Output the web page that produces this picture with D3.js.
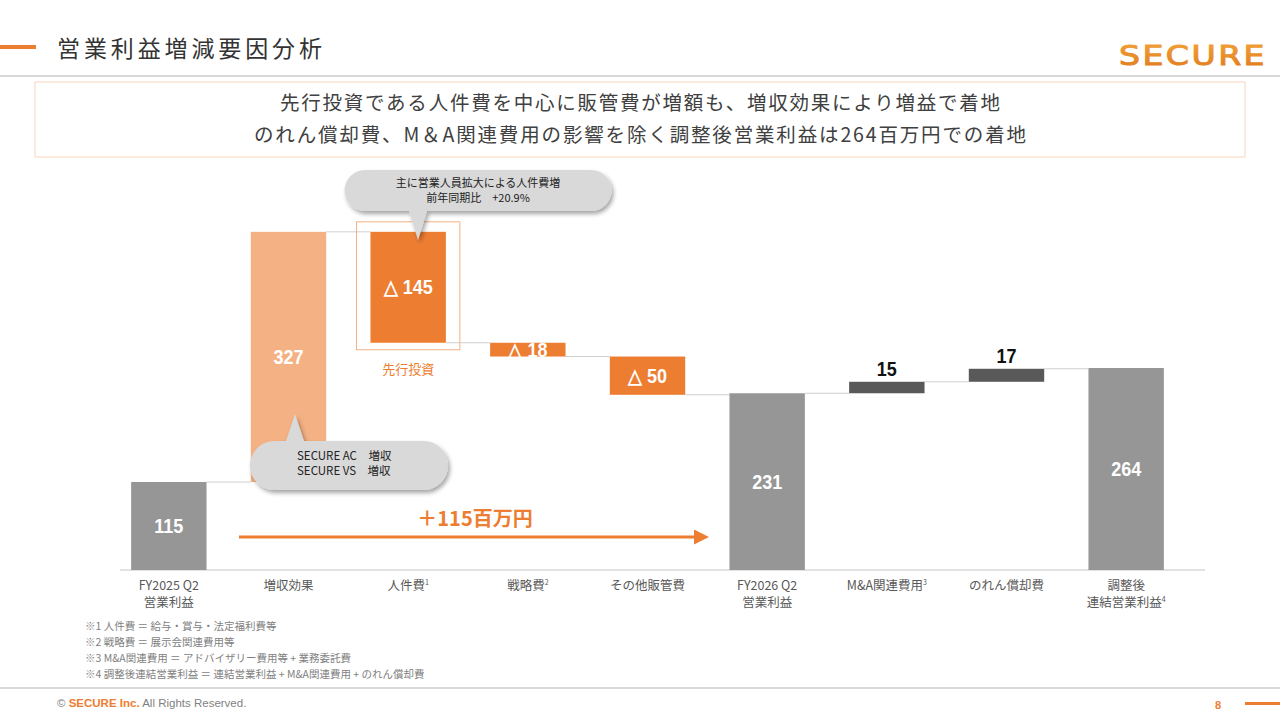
<!DOCTYPE html>
<html>
<head>
<meta charset="utf-8">
<script src="https://cdn.jsdelivr.net/npm/d3@7"></script>
<style>
  body { margin: 0; background: #fff; }
  svg { display: block; font-family: "Noto Sans CJK JP", "Noto Sans", sans-serif; }
</style>
</head>
<body>
<svg id="chart" width="1280" height="720"></svg>
<script>
// categories (line 1, line 2) and footnote superscripts
const catLine1 = ["FY2025 Q2", "増収効果", "人件費", "戦略費", "その他販管費", "FY2026 Q2", "M&A関連費用", "のれん償却費", "調整後"];
const catLine2 = ["営業利益", "", "", "", "", "営業利益", "", "", "連結営業利益"];
const catSup = ["", "", "1", "2", "", "", "3", "", "4"];

// waterfall values (百万円)
const values = [115, 327, -145, -18, -50, 231, 15, 17, 264];
const kinds = ["total", "up", "down", "down", "down", "total", "adj", "adj", "total"];
const valueLabels = ["115", "327", "△ 145", "△ 18", "△ 50", "231", "15", "17", "264"];

const headline = [
  "先行投資である人件費を中心に販管費が増額も、増収効果により増益で着地",
  "のれん償却費、M＆A関連費用の影響を除く調整後営業利益は264百万円での着地"
];
const note1 = ["主に営業人員拡大による人件費増", "前年同期比　+20.9%"];
const note2 = ["SECURE AC　増収", "SECURE VS　増収"];
const footnotes = [
  "※1 人件費 ＝ 給与・賞与・法定福利費等",
  "※2 戦略費 ＝ 展示会関連費用等",
  "※3 M&A関連費用 ＝ アドバイザリー費用等 + 業務委託費",
  "※4 調整後連結営業利益 ＝ 連結営業利益 + M&A関連費用 + のれん償却費"
];

const colors = { total: "#969696", up: "#F4B183", down: "#ED7D31", adj: "#595959" };
const orange = "#ED7D31";

const svg = d3.select("#chart");
const defs = svg.append("defs");
const shadow = defs.append("filter").attr("id", "shadow").attr("x", "-20%").attr("y", "-30%").attr("width", "140%").attr("height", "170%");
shadow.append("feDropShadow").attr("dx", 2).attr("dy", 3).attr("stdDeviation", 2).attr("flood-color", "#000").attr("flood-opacity", 0.35);

const logoGrad = defs.append("linearGradient").attr("id", "logoGrad").attr("x1", "0").attr("y1", "0").attr("x2", "0").attr("y2", "1");
logoGrad.append("stop").attr("offset", "0%").attr("stop-color", "#F2A33A");
logoGrad.append("stop").attr("offset", "100%").attr("stop-color", "#E07A1E");

defs.append("marker").attr("id", "arrowHead")
  .attr("viewBox", "0 0 10 10").attr("refX", 2).attr("refY", 5)
  .attr("markerWidth", 5).attr("markerHeight", 5).attr("orient", "auto")
  .append("path").attr("d", "M0,0 L10,5 L0,10 z").attr("fill", orange);

// ---- header ----
svg.append("rect").attr("x", 0).attr("y", 45).attr("width", 36).attr("height", 4).attr("fill", orange);
svg.append("text").attr("x", 57).attr("y", 57).attr("font-size", 23).attr("fill", "#333")
  .attr("textLength", 265).attr("lengthAdjust", "spacing")
  .text("営業利益増減要因分析");
svg.append("text").attr("x", 1119).attr("y", 65)
  .attr("font-family", "DejaVu Sans").attr("font-size", 27).attr("letter-spacing", 2)
  .attr("textLength", 148).attr("lengthAdjust", "spacingAndGlyphs")
  .attr("fill", "url(#logoGrad)").attr("stroke", "url(#logoGrad)").attr("stroke-width", 1)
  .text("SECURE");
svg.append("line").attr("x1", 0).attr("x2", 1280).attr("y1", 76).attr("y2", 76)
  .attr("stroke", "#d9d9d9").attr("stroke-width", 2);

// message box
svg.append("rect").attr("x", 35).attr("y", 82).attr("width", 1210).attr("height", 75)
  .attr("fill", "#fff").attr("stroke", "#F8D5BC").attr("stroke-width", 1);
const headWidths = [720, 772];
svg.selectAll(".headline").data(headline).enter().append("text")
  .attr("x", 640).attr("y", (d, i) => 110 + i * 32)
  .attr("text-anchor", "middle").attr("font-size", 19.5).attr("fill", "#404040")
  .attr("textLength", (d, i) => headWidths[i]).attr("lengthAdjust", "spacing")
  .text(d => d);

// ---- chart ----
const x = d3.scalePoint().domain(d3.range(values.length)).range([109, 1186]).padding(0.5);
const barW = x.step() * 0.63;
const y = d3.scaleLinear().domain([0, 450]).range([570, 225.7]);

let running = 0;
const bars = values.map((v, i) => {
  let y0, y1;
  if (kinds[i] === "total") { y0 = 0; y1 = v; running = v; }
  else { y0 = running; y1 = running + v; running = y1; }
  return { i, v, kind: kinds[i], lo: Math.min(y0, y1), hi: Math.max(y0, y1), end: y1, label: valueLabels[i] };
});

// axis line
svg.append("line").attr("x1", 120).attr("x2", 1205).attr("y1", y(0)).attr("y2", y(0))
  .attr("stroke", "#d9d9d9").attr("stroke-width", 1.5);

// connectors
bars.slice(0, -1).forEach((b) => {
  svg.append("line")
    .attr("x1", x(b.i) + barW / 2).attr("x2", x(b.i + 1) - barW / 2)
    .attr("y1", y(b.end)).attr("y2", y(b.end))
    .attr("stroke", "#d0d0d0").attr("stroke-width", 1);
});

svg.selectAll(".bar").data(bars).enter().append("rect")
  .attr("x", d => x(d.i) - barW / 2).attr("width", barW)
  .attr("y", d => y(d.hi)).attr("height", d => y(d.lo) - y(d.hi))
  .attr("fill", d => colors[d.kind]);

svg.selectAll(".val").data(bars).enter().append("text")
  .attr("transform", d => {
    const ty = d.kind === "adj" ? y(d.hi) - 6 : (y(d.lo) + y(d.hi)) / 2 + 7;
    return `translate(${x(d.i)},${ty}) scale(0.9,1)`;
  })
  .attr("text-anchor", "middle")
  .attr("font-family", "'Liberation Sans', sans-serif")
  .attr("font-weight", "bold").attr("font-size", 20)
  .attr("fill", d => d.kind === "adj" ? "#111" : "#fff")
  .text(d => d.label);

// category labels (each line its own text)
catLine1.forEach((d, i) => {
  const lines = catLine2[i] ? [d, catLine2[i]] : [d];
  lines.forEach((line, k) => {
    const t = svg.append("text")
      .attr("x", x(i)).attr("y", 590 + k * 17)
      .attr("text-anchor", "middle").attr("font-size", 12.5).attr("fill", "#595959");
    t.append("tspan").text(line);
    if (catSup[i] && k === lines.length - 1) {
      t.append("tspan").attr("font-size", 7).attr("dy", -5).text(catSup[i]);
    }
  });
});

// highlight box around 人件費
const b2 = bars[2];
svg.append("rect").attr("x", x(2) - barW / 2 - 14).attr("y", y(b2.hi) - 10)
  .attr("width", barW + 28).attr("height", y(b2.lo) - y(b2.hi) + 17)
  .attr("fill", "none").attr("stroke", "#F4B183").attr("stroke-width", 1);
svg.append("text").attr("x", x(2)).attr("y", 374).attr("text-anchor", "middle")
  .attr("font-size", 13).attr("fill", orange).text("先行投資");

// callouts
function callout(cx, top, w, h, tipX, tipY, lines, pos) {
  const g = svg.append("g").attr("filter", "url(#shadow)");
  const left = cx - w / 2;
  const baseY = tipY > top ? top + h : top;
  g.append("rect").attr("x", left).attr("y", top).attr("width", w).attr("height", h)
    .attr("rx", h / 2).attr("fill", "#d9d9d9");
  g.append("path").attr("d", `M${tipX - 9},${baseY} L${tipX},${tipY} L${tipX + 9},${baseY} Z`).attr("fill", "#d9d9d9");
  svg.selectAll(null).data(lines).enter().append("text")
    .attr("x", pos.x).attr("y", (d, i) => pos.y + i * 15)
    .attr("text-anchor", pos.anchor).attr("font-size", pos.size).attr("fill", "#222")
    .text(d => d);
}
callout(478, 170, 267, 41, 418, 240, note1, { x: 478, y: 187, anchor: "middle", size: 11 });
callout(349, 441, 198, 49, 295, 414, note2, { x: 297, y: 460, anchor: "start", size: 11.5 });

// +115 arrow
svg.append("line").attr("x1", 239).attr("x2", 697).attr("y1", 537).attr("y2", 537)
  .attr("stroke", orange).attr("stroke-width", 3).attr("marker-end", "url(#arrowHead)");
svg.append("text").attr("x", 475).attr("y", 526).attr("text-anchor", "middle")
  .attr("font-size", 20).attr("font-weight", "bold").attr("fill", orange).text("＋115百万円");

// footnotes
svg.selectAll(".fn").data(footnotes).enter().append("text")
  .attr("x", 85).attr("y", (d, i) => 630 + i * 16)
  .attr("font-size", 10.5).attr("fill", "#7f7f7f").text(d => d);

// footer
svg.append("line").attr("x1", 0).attr("x2", 1280).attr("y1", 688).attr("y2", 688)
  .attr("stroke", "#d9d9d9").attr("stroke-width", 2);
const foot = svg.append("text").attr("x", 57).attr("y", 707).attr("font-size", 11.5)
  .attr("font-family", "'Liberation Sans', sans-serif").attr("fill", "#7f7f7f");
foot.append("tspan").text("© ");
foot.append("tspan").attr("fill", orange).attr("font-weight", "bold").text("SECURE Inc.");
foot.append("tspan").text(" All Rights Reserved.");
svg.append("text").attr("x", 1218).attr("y", 709).attr("text-anchor", "middle")
  .attr("font-size", 11).attr("font-weight", "bold").attr("fill", orange)
  .attr("font-family", "'Liberation Sans', sans-serif").text("8");
svg.append("rect").attr("x", 1245).attr("y", 702).attr("width", 35).attr("height", 3).attr("fill", orange);
</script>
</body>
</html>
